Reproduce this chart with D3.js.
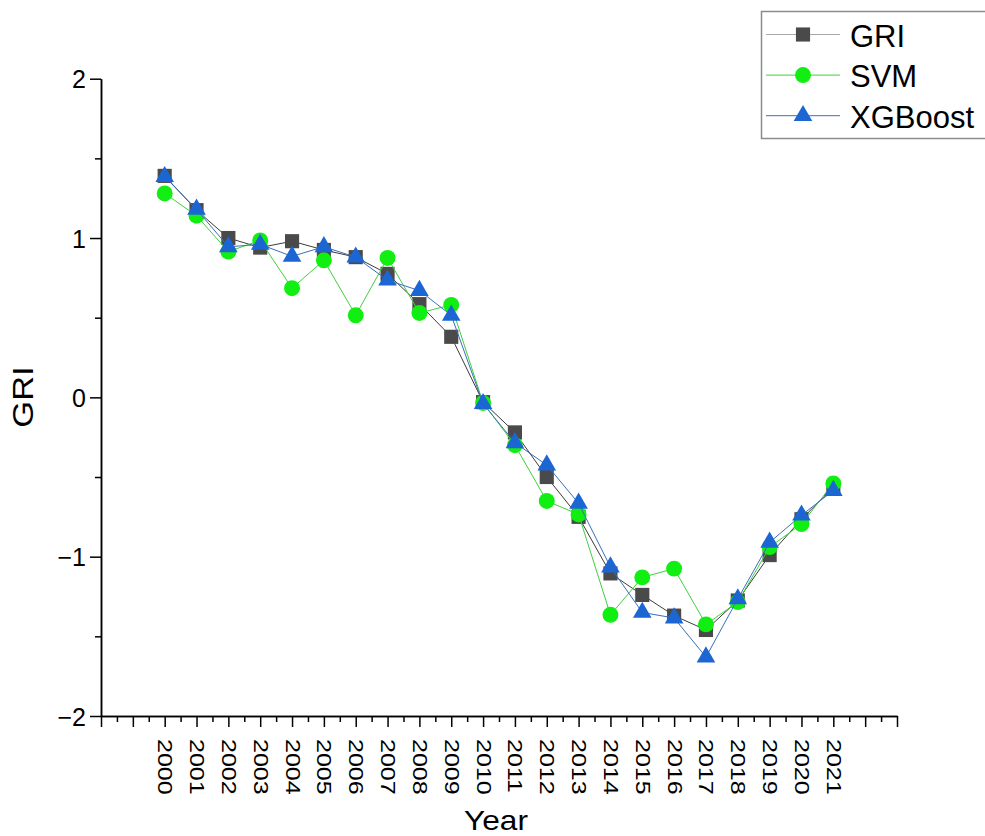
<!DOCTYPE html>
<html>
<head>
<meta charset="utf-8">
<script src="https://cdn.jsdelivr.net/npm/d3@7"></script>
<style>
	body { margin: 0; background: #fff; }
	svg { display: block; font-family: "Liberation Sans", Arial, sans-serif; }
</style>
</head>
<body>
<svg width="985" height="836"></svg>
<script>
// values
const years = [ 2000, 2001, 2002, 2003, 2004, 2005, 2006, 2007, 2008, 2009, 2010,
	2011, 2012, 2013, 2014, 2015, 2016, 2017, 2018, 2019, 2020, 2021 ];
const gri = [ 1.39, 1.175, 1.0, 0.94, 0.98, 0.925, 0.88, 0.775, 0.585, 0.38, -0.03,
	-0.22, -0.5, -0.75, -1.105, -1.24, -1.37, -1.46, -1.275, -0.99, -0.765, -0.565 ];
const svm = [ 1.28, 1.14, 0.915, 0.985, 0.685, 0.86, 0.515, 0.875, 0.53, 0.58, -0.035,
	-0.3, -0.65, -0.735, -1.365, -1.13, -1.075, -1.425, -1.285, -0.94, -0.795, -0.54 ];
const xgb = [ 1.385, 1.18, 0.945, 0.96, 0.885, 0.945, 0.88, 0.735, 0.67, 0.515, -0.04,
	-0.285, -0.425, -0.665, -1.065, -1.35, -1.385, -1.63, -1.265, -0.91, -0.74, -0.585 ];
const yTicks = [ -2, -1, 0, 1, 2 ];
const yMinor = [ -1.5, -0.5, 0.5, 1.5 ];
const xExtent = [ 1998, 2023 ];

const series = [
	{ id: "GRI", vals: gri, shape: d3.symbolSquare, size: 200, fill: "#4a4a4a", stroke: "#3c3c3c", legendLine: "#a8a8a8" },
	{ id: "SVM", vals: svm, shape: d3.symbolCircle, size: 200, fill: "#11ee11", stroke: "#3fcf3f", legendLine: "#3fcf3f" },
	{ id: "XGBoost", vals: xgb, shape: d3.symbolTriangle, size: 150, fill: "#1c66d4", stroke: "#3a6fb8", legendLine: "#3a6fb8" }
];

const margin = { top: 78.7, right: 88, bottom: 120, left: 101 };
const svg = d3.select( "svg" );
const w = +svg.attr( "width" ) - margin.left - margin.right;
const h = 716 - margin.top;
const g = svg.append( "g" ).attr( "transform", "translate(" + margin.left + "," + margin.top + ")" );

const x = d3.scaleLinear().domain( xExtent ).range( [ 0, w ] );
const y = d3.scaleLinear().domain( [ -2, 2 ] ).range( [ h, 0 ] );

const fmtY = d => { return ( d < 0 ) ? "\u2212" + Math.abs( d ) : String( d ); };

// axes: major + minor ticks
const xMajor = d3.range( xExtent[0], xExtent[1] + 1 );
const xMinorVals = xMajor.slice( 0, -1 ).map( d => { return d + 0.5; });

const gx = g.append( "g" )
	.attr( "class", "axis axis--x" )
	.attr( "transform", "translate(0," + h + ")" )
	.call( d3.axisBottom( x ).tickValues( xMajor ).tickSize( 11 ).tickSizeOuter( 0 )
		.tickFormat( d => { return ( years.includes( d ) ) ? String( d ) : ""; }) );
gx.selectAll( "text" )
	.attr( "y", 0 )
	.attr( "x", 18.4 )
	.attr( "dy", "0.35em" )
	.attr( "text-anchor", "start" )
	.attr( "transform", "rotate(90) scale(1.25,1)" )
	.style( "font-size", "20px" );
g.append( "g" )
	.attr( "class", "axis axis--x-minor" )
	.attr( "transform", "translate(0," + h + ")" )
	.call( d3.axisBottom( x ).tickValues( xMinorVals ).tickSize( 6 ).tickSizeOuter( 0 ).tickFormat( "" ) );

const gy = g.append( "g" )
	.attr( "class", "axis axis--y" )
	.call( d3.axisLeft( y ).tickValues( yTicks ).tickSize( 11 ).tickSizeOuter( 0 ).tickPadding( 4 ).tickFormat( fmtY ) );
gy.selectAll( "text" ).style( "font-size", "25px" ).attr( "dy", "0.36em" );
g.append( "g" )
	.attr( "class", "axis axis--y-minor" )
	.call( d3.axisLeft( y ).tickValues( yMinor ).tickSize( 6 ).tickSizeOuter( 0 ).tickFormat( "" ) );

g.selectAll( ".axis path, .axis line" ).attr( "stroke", "#000" ).attr( "stroke-width", 1.5 );
g.selectAll( ".axis text" ).attr( "fill", "#000" );

// axis titles
svg.append( "text" )
	.attr( "transform", "translate(33,397) rotate(-90) scale(1.15,1)" )
	.attr( "text-anchor", "middle" )
	.style( "font-size", "30px" )
	.text( "GRI" );
svg.append( "text" )
	.attr( "transform", "translate(496,830) scale(1.13,1)" )
	.attr( "text-anchor", "middle" )
	.style( "font-size", "28px" )
	.text( "Year" );

// series: line then symbols, drawn in order
const line = d3.line()
	.x( ( d, i ) => { return x( years[ i ] ); })
	.y( d => { return y( d ); });

series.forEach( s => {
	const sg = g.append( "g" ).attr( "class", "d-content" );
	sg.append( "path" )
		.attr( "d", line( s.vals ) )
		.attr( "fill", "none" )
		.attr( "stroke", s.stroke )
		.attr( "stroke-width", 1 );
	sg.selectAll( ".dot" )
		.data( s.vals )
		.enter().append( "path" )
		.attr( "class", "dot" )
		.attr( "d", d3.symbol().type( s.shape ).size( s.size ) )
		.attr( "transform", ( d, i ) => { return "translate(" + x( years[ i ] ) + "," + y( d ) + ")"; })
		.attr( "fill", s.fill );
});

// legend
const lg = svg.append( "g" ).attr( "transform", "translate(761.5,11.5)" );
lg.append( "rect" )
	.attr( "width", 240 )
	.attr( "height", 127 )
	.attr( "fill", "#fff" )
	.attr( "stroke", "#8c8c8c" )
	.attr( "stroke-width", 1.5 );
series.forEach( ( s, i ) => {
	const ry = 23 + i * 40.6;
	lg.append( "line" )
		.attr( "x1", 4.5 ).attr( "x2", 78.5 )
		.attr( "y1", ry ).attr( "y2", ry )
		.attr( "stroke", s.legendLine )
		.attr( "stroke-width", 1 );
	lg.append( "path" )
		.attr( "d", d3.symbol().type( s.shape ).size( s.size ) )
		.attr( "transform", "translate(41.5," + ry + ")" )
		.attr( "fill", s.fill );
	lg.append( "text" )
		.attr( "x", 88.5 )
		.attr( "y", ry + 12 )
		.style( "font-size", "31px" )
		.text( s.id );
});
</script>
</body>
</html>
